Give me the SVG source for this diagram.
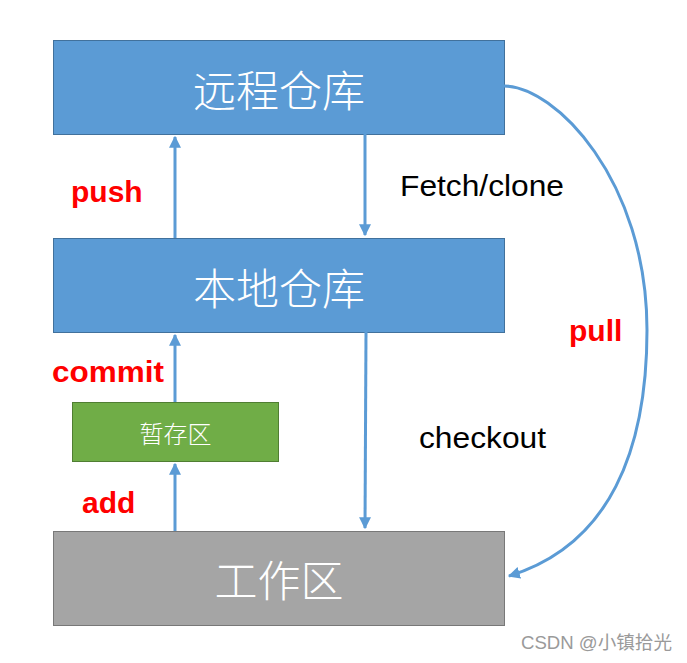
<svg xmlns="http://www.w3.org/2000/svg" width="687" height="663" viewBox="0 0 687 663">
<style>
.blue{fill:#5B9BD5;stroke:#41719C;stroke-width:1}
.green{fill:#70AD47;stroke:#507E32;stroke-width:1}
.gray{fill:#A5A5A5;stroke:#787878;stroke-width:1}
.title{font-family:"Noto Sans CJK SC","Noto Sans",sans-serif;font-weight:300;fill:#fff;text-anchor:middle;dominant-baseline:central}
.conn{fill:none;stroke:#5B9BD5;stroke-width:3}
.red{font-family:"Liberation Sans",Arial,sans-serif;font-weight:bold;font-size:30px;fill:#FF0000}
.blk{font-family:"Liberation Sans",Arial,sans-serif;font-size:30px;fill:#000}
</style>
<defs>
<marker id="ah" viewBox="0 0 10 10" refX="9" refY="5" markerWidth="4" markerHeight="4" orient="auto" markerUnits="strokeWidth">
<path d="M0,0 L10,5 L0,10 z" fill="#5B9BD5"/>
</marker>
</defs>
<rect width="687" height="663" fill="#fff"/>
<g id="remote">
<rect class="blue" x="53.5" y="40.5" width="451" height="94"/>
<text class="title" x="279" y="88" font-size="43">远程仓库</text>
</g>
<g id="local">
<rect class="blue" x="53.5" y="238.5" width="451" height="94"/>
<text class="title" x="279" y="286" font-size="43">本地仓库</text>
</g>
<g id="stage">
<rect class="green" x="72.5" y="402.5" width="206" height="59"/>
<text class="title" x="175.5" y="432" font-size="24">暂存区</text>
</g>
<g id="work">
<rect class="gray" x="53.5" y="531.5" width="451" height="94"/>
<text class="title" x="279" y="578" font-size="43">工作区</text>
</g>
<g id="connectors">
<path class="conn" d="M175,238 L175,137" marker-end="url(#ah)"/>
<path class="conn" d="M365,134 L365,235" marker-end="url(#ah)"/>
<path class="conn" d="M175,402 L175,335" marker-end="url(#ah)"/>
<path class="conn" d="M175,531 L175,464" marker-end="url(#ah)"/>
<path class="conn" d="M366,332 L365,528" marker-end="url(#ah)"/>
<path class="conn" d="M504,86 C555,86 647,180 647,330 C647,450 610,545 509,576" marker-end="url(#ah)"/>
<text class="red" x="71" y="202">push</text>
<text class="red" x="52" y="382" textLength="112" lengthAdjust="spacingAndGlyphs">commit</text>
<text class="red" x="82" y="513">add</text>
<text class="red" x="569" y="341">pull</text>
<text class="blk" x="400" y="196" textLength="164" lengthAdjust="spacingAndGlyphs">Fetch/clone</text>
<text class="blk" x="419" y="448" textLength="127" lengthAdjust="spacingAndGlyphs">checkout</text>
</g>
<text x="521" y="649" font-family="Liberation Sans,'Noto Sans CJK SC',sans-serif" font-size="18" fill="#9a9a9a" textLength="151" lengthAdjust="spacingAndGlyphs">CSDN @小镇拾光</text>
</svg>
